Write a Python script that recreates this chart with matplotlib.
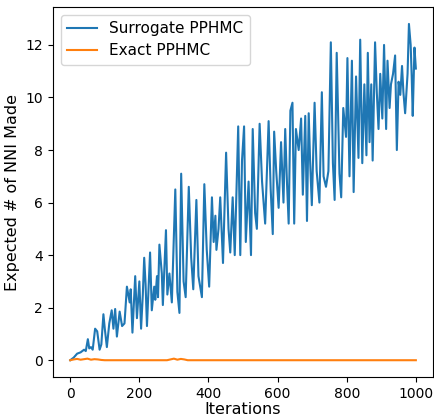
#!/usr/bin/env python3
"""Expected number of NNI moves made: surrogate vs exact PPHMC."""
import matplotlib
matplotlib.use('Agg')
import matplotlib.pyplot as plt

OUTPUT_FILE = 'out.png'
DPI = 100

# Surrogate PPHMC curve (iteration, value)
surr_iter = [0, 10, 20, 30, 40, 45, 51, 55, 60, 65, 72, 78, 85, 90, 96, 100,
             106, 113, 120, 125, 130, 135, 143, 150, 157, 164, 172, 175, 180,
             188, 193, 200, 205, 210, 214, 218, 222, 231, 236, 243, 246, 251,
             254, 258, 265, 268, 277, 281, 287, 294, 304, 310, 316, 321, 328,
             334, 343, 350, 356, 365, 371, 381, 388, 395, 402, 410, 415, 420,
             423, 429, 434, 442, 451, 458, 463, 470, 476, 486, 492, 497, 503,
             508, 516, 523, 528, 535, 540, 548, 555, 564, 574, 580, 586, 590,
             596, 603, 610, 617, 622, 627, 632, 637, 643, 648, 653, 661, 668,
             673, 680, 685, 690, 694, 699, 707, 713, 721, 728, 733, 740, 747,
             754, 760, 765, 771, 779, 784, 790, 798, 802, 808, 815, 820, 827,
             834, 839, 845, 851, 857, 861, 866, 871, 875, 882, 887, 892, 897,
             903, 908, 914, 918, 924, 928, 934, 940, 945, 950, 955, 960, 964,
             969, 976, 980, 985, 988, 991, 996, 1000]
surr_vals = [0.0, 0.1, 0.25, 0.3, 0.4, 0.35, 0.8, 0.45, 0.5, 0.4, 1.2, 1.1,
             0.4, 0.6, 1.75, 1.2, 0.5, 1.4, 1.9, 1.2, 1.95, 0.9, 1.85, 1.3,
             1.4, 2.8, 2.2, 2.7, 1.05, 3.2, 1.6, 3.0, 1.2, 2.5, 3.9, 2.9, 1.3,
             4.1, 1.9, 2.8, 2.3, 3.2, 2.4, 4.4, 3.3, 2.1, 4.95, 2.5, 3.3, 2.2,
             6.5, 2.6, 1.8, 7.1, 3.0, 2.4, 6.6, 3.9, 2.7, 6.1, 3.2, 2.4, 6.7,
             4.2, 2.8, 6.2, 4.5, 5.5, 4.2, 5.0, 6.2, 3.7, 7.9, 5.0, 4.1, 6.2,
             4.0, 8.9, 4.0, 7.6, 8.9, 4.5, 6.8, 4.0, 8.8, 5.6, 5.0, 9.0, 6.8,
             5.2, 9.1, 6.5, 4.8, 8.7, 7.2, 5.8, 8.3, 6.0, 8.8, 6.8, 5.2, 9.5,
             9.8, 5.2, 8.8, 8.0, 9.2, 6.3, 9.3, 5.3, 9.4, 7.6, 5.9, 9.8, 7.2,
             6.0, 10.2, 7.0, 6.6, 7.2, 12.1, 7.5, 6.1, 11.7, 7.1, 6.2, 9.6,
             8.5, 11.5, 7.0, 11.4, 6.4, 10.8, 7.7, 12.2, 7.5, 10.5, 7.8, 11.7,
             8.3, 10.5, 7.6, 12.1, 10.2, 8.8, 10.9, 9.2, 12.0, 8.8, 11.4, 9.6,
             10.5, 10.9, 11.6, 8.0, 10.6, 10.1, 11.2, 10.2, 9.4, 10.9, 12.8,
             12.0, 10.8, 9.3, 11.9, 11.1]

# Exact PPHMC curve: essentially zero with tiny bumps
exact_iter = [0, 10, 20, 30, 40, 50, 60, 70, 80, 90, 100, 280, 290, 300, 310,
              320, 330, 340, 1000]
exact_vals = [0.0, 0.03, 0.05, 0.02, 0.04, 0.06, 0.02, 0.04, 0.03, 0.01, 0.0,
              0.0, 0.03, 0.06, 0.02, 0.05, 0.03, 0.0, 0.0]

COLOR_SURR = '#1f77b4'
COLOR_EXACT = '#ff7f0e'

fig = plt.figure(figsize=(4.34, 4.18), dpi=DPI)
ax = fig.add_axes([0.122, 0.098, 0.876, 0.885])

ax.plot(surr_iter, surr_vals, color=COLOR_SURR, linewidth=1.5,
        label='Surrogate PPHMC')
ax.plot(exact_iter, exact_vals, color=COLOR_EXACT, linewidth=1.5,
        label='Exact PPHMC')

ax.set_xlabel('Iterations', fontsize=11.5, labelpad=1)
ax.set_ylabel('Expected # of NNI Made', fontsize=11.5)
ax.set_xticks([0, 200, 400, 600, 800, 1000])
ax.set_yticks([0, 2, 4, 6, 8, 10, 12])
ax.tick_params(labelsize=10)
ax.legend(loc='upper left', fontsize=11)

fig.savefig(OUTPUT_FILE, dpi=DPI)
plt.close(fig)
